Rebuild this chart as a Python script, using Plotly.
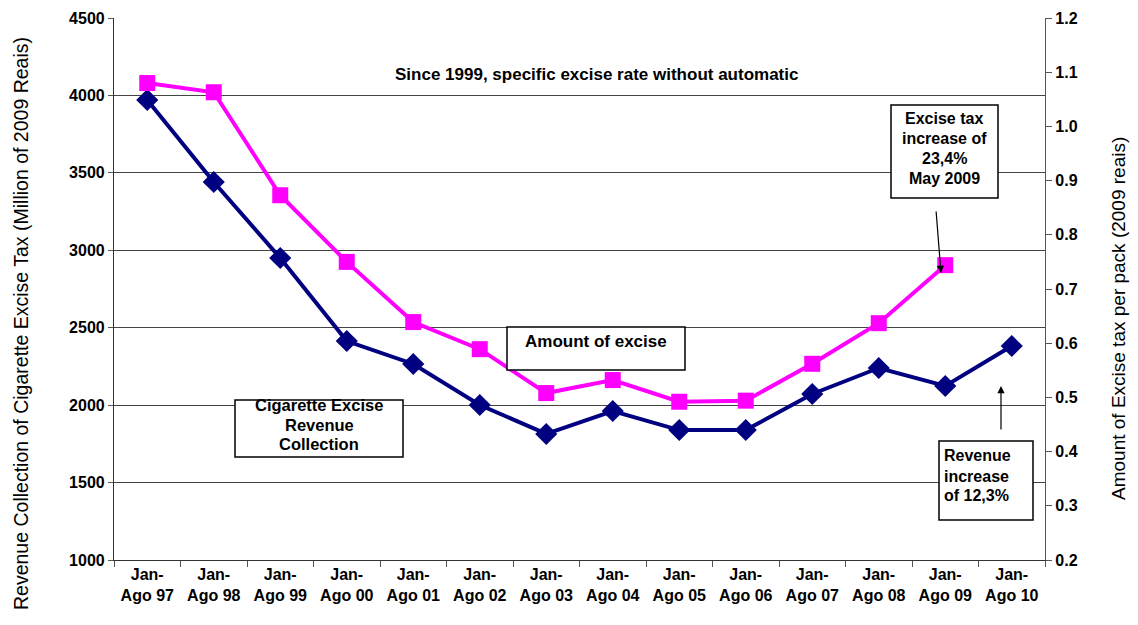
import plotly.graph_objects as go

categories = ["Jan-<br>Ago 97", "Jan-<br>Ago 98", "Jan-<br>Ago 99", "Jan-<br>Ago 00", "Jan-<br>Ago 01",
              "Jan-<br>Ago 02", "Jan-<br>Ago 03", "Jan-<br>Ago 04", "Jan-<br>Ago 05", "Jan-<br>Ago 06",
              "Jan-<br>Ago 07", "Jan-<br>Ago 08", "Jan-<br>Ago 09", "Jan-<br>Ago 10"]
revenue = [3970, 3441, 2950, 2414, 2266, 2001, 1814, 1962, 1839, 1839, 2072, 2240, 2124, 2382]
excise_per_pack = [1.080, 1.063, 0.873, 0.750, 0.639, 0.589, 0.508, 0.532, 0.492, 0.494, 0.562, 0.637, 0.744, None]

FONT = "Liberation Sans, Arial, sans-serif"
NAVY = "#000080"
MAGENTA = "#FF00FF"

fig = go.Figure()
fig.add_trace(go.Scatter(x=categories, y=revenue, mode="lines+markers", yaxis="y",
                         line=dict(color=NAVY, width=4),
                         marker=dict(symbol="diamond", size=17, color=NAVY),
                         showlegend=False))
fig.add_trace(go.Scatter(x=categories, y=excise_per_pack, mode="lines+markers", yaxis="y2",
                         line=dict(color=MAGENTA, width=4),
                         marker=dict(symbol="square", size=16, color=MAGENTA),
                         showlegend=False, connectgaps=False))

# page-pixel geometry (page has an 8px body margin)
OFF = 8
L, R, T, B = 114, 1045, 18, 560
W, H = R - L, B - T
FIG_W = 1138 - OFF
FIG_H = 625 - 2 * OFF

def px(x):
    return (x - L) / W

def py(y):
    return (B - y) / H

TICK = 16
annots = []
shapes = []

def text(t, x, y, size=17, xanchor="center", angle=0):
    annots.append(dict(xref="paper", yref="paper", x=px(x), y=py(y), xanchor=xanchor, yanchor="middle",
                       showarrow=False, text=t, textangle=angle,
                       font=dict(family=FONT, size=size, color="black")))

def rect(x0, y0, x1, y1):
    shapes.append(dict(type="rect", xref="paper", yref="paper", x0=px(x0), x1=px(x1), y0=py(y1), y1=py(y0),
                       line=dict(color="black", width=1.5), fillcolor="white", layer="above"))

text("<b>Since 1999, specific excise rate without automatic</b>", 596, 74, 17)

rect(507, 327, 685, 370)
text("<b>Amount of excise</b>", 596, 341, 17)

rect(235, 400, 403, 457)
for t, y in [("Cigarette Excise", 405), ("Revenue", 425), ("Collection", 444)]:
    text("<b>" + t + "</b>", 319, y, 16.5)

rect(891, 105, 998, 198)
for t, y in [("Excise tax", 118), ("increase of", 138), ("23,4%", 158), ("May 2009", 178)]:
    text("<b>" + t + "</b>", 944, y, 16)

rect(939, 441, 1033, 520)
for t, y in [("Revenue", 456), ("increase", 476), ("of 12,3%", 495)]:
    text("<b>" + t + "</b>", 942, y, 16, xanchor="left")

# axis titles
text("Revenue Collection of Cigarette Excise Tax (Million of 2009 Reais)", 21, 324, 19.5, angle=-90)
text("Amount of Excise tax per pack (2009 reais)", 1118, 319, 19, angle=-90)

# arrows
annots.append(dict(xref="paper", yref="paper", x=px(941), y=py(273), ax=-5, ay=-63,
                   text="", showarrow=True, arrowhead=2, arrowsize=1.2, arrowwidth=1.2, arrowcolor="black"))
annots.append(dict(xref="paper", yref="paper", x=px(1001), y=py(386), ax=0, ay=45,
                   text="", showarrow=True, arrowhead=2, arrowsize=1.2, arrowwidth=1.2, arrowcolor="black"))

fig.update_layout(
    width=FIG_W, height=FIG_H,
    margin=dict(l=L - OFF, r=1138 - R, t=T - OFF, b=FIG_H + OFF - B),
    paper_bgcolor="white", plot_bgcolor="white",
    font=dict(family=FONT, color="black"),
    xaxis=dict(type="category", showline=True, linecolor="#333", linewidth=1.2, automargin=False,
               ticks="outside", tickson="boundaries", ticklen=6, tickcolor="#555",
               tickfont=dict(family=FONT, size=TICK, color="black"),
               ticktext=["<b>" + c + "</b>" for c in categories], tickvals=categories,
               showgrid=False, range=[-0.5, 13.5]),
    yaxis=dict(range=[1000, 4500], dtick=500, showline=True, linecolor="#333", linewidth=1.2,
               automargin=False,
               ticks="outside", ticklen=5, tickcolor="#555",
               showgrid=True, gridcolor="#444", gridwidth=1,
               tickfont=dict(family=FONT, size=TICK, color="black"),
               tickformat="d", tickprefix="<b>", ticksuffix="</b>"),
    yaxis2=dict(range=[0.2, 1.2], dtick=0.1, overlaying="y", side="right",
                showline=True, linecolor="#555", linewidth=1.2, automargin=False,
                ticks="outside", ticklen=6, tickcolor="#555", showgrid=False,
                tickformat=".1f", tickprefix="<b>", ticksuffix="</b>",
                tickfont=dict(family=FONT, size=TICK, color="black")),
    yaxis3=dict(range=[0.2, 1.2], dtick=0.1, overlaying="y", side="right", anchor="x",
                showline=False, automargin=False, ticks="inside", ticklen=5, tickcolor="#555",
                showgrid=False, showticklabels=False),
    annotations=annots,
    shapes=shapes,
)

fig.write_html("out.html")
